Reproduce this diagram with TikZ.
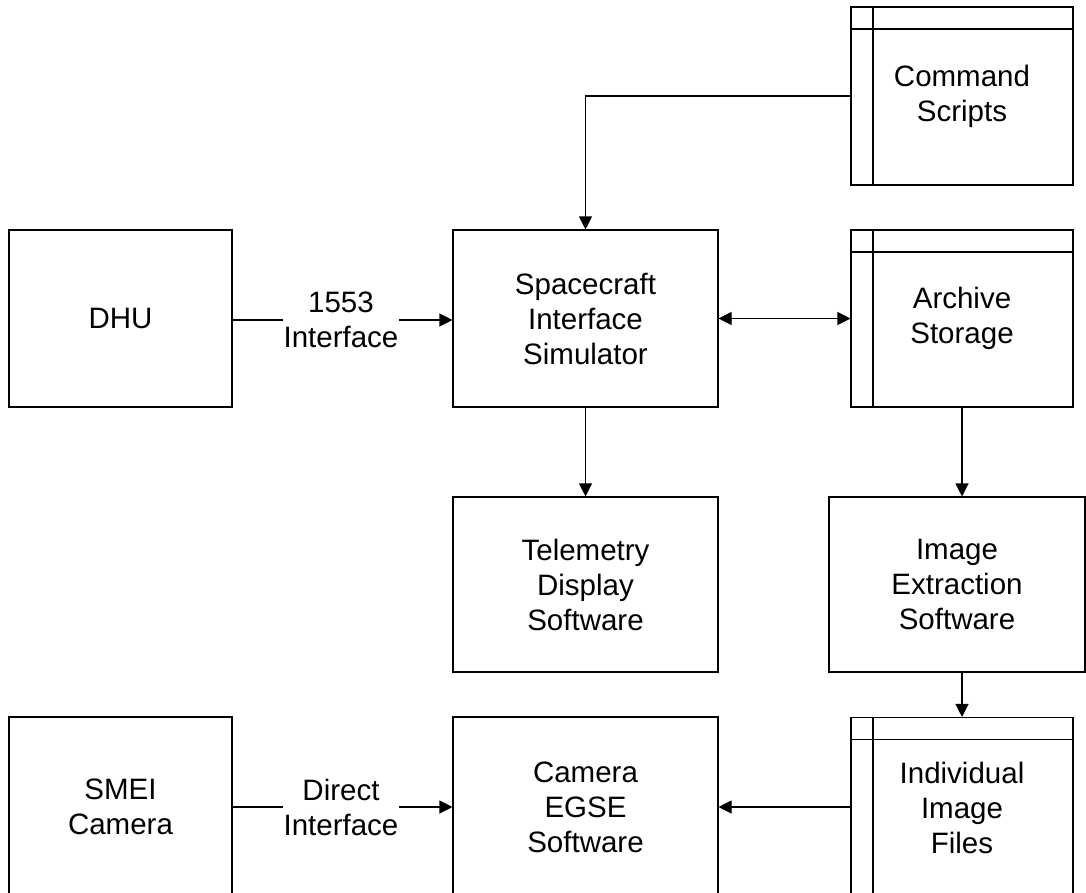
\documentclass[tikz,border=0pt]{standalone}
\usepackage{fontspec}
\setmainfont{Liberation Sans}
\usetikzlibrary{arrows.meta}
\begin{document}
\begin{tikzpicture}[x=1pt,y=-1pt,
  every node/.style={font=\fontsize{29.5}{35}\selectfont, align=center, inner sep=0pt},
  proc/.style={draw, line width=1.1pt},
  store/.style={draw, line width=1.1pt,
    path picture={
      \draw[line width=1.1pt] ([xshift=22pt]path picture bounding box.north west) -- ([xshift=22pt]path picture bounding box.south west);
      \draw[line width=1.1pt] ([yshift=-22pt]path picture bounding box.north west) -- ([yshift=-22pt]path picture bounding box.north east);
    }},
  link/.style={line width=1.1pt, -{Triangle[length=13pt,width=13pt]}},
  dlink/.style={line width=1.1pt, {Triangle[length=13pt,width=13pt]}-{Triangle[length=13pt,width=13pt]}},
  tag/.style={fill=white, inner xsep=1pt, inner ysep=0pt}]
\clip (0,0) rectangle (1086,892);

% processes
\node[proc, minimum width=223pt, minimum height=177pt] (dhu) at (120.5,318.5) {DHU};
\node[proc, minimum width=265pt, minimum height=177pt] (sis) at (585.5,318.5) {Spacecraft\\Interface\\Simulator};
\node[proc, minimum width=265pt, minimum height=175pt] (tel) at (585.5,584.5) {Telemetry\\Display\\Software};
\node[proc, minimum width=256pt, minimum height=175pt] (img) at (957,584.5) {Image\\Extraction\\Software};
\node[proc, minimum width=223pt, minimum height=180pt] (smei) at (120.5,807) {SMEI\\Camera};
\node[proc, minimum width=265pt, minimum height=180pt] (egse) at (585.5,807) {Camera\\EGSE\\Software};

% data stores
\node[store, minimum width=222pt, minimum height=178pt] (cmd) at (962,96) {Command\\Scripts};
\node[store, minimum width=222pt, minimum height=177pt] (arc) at (962,318.5) {Archive\\Storage};
\node[store, minimum width=222pt, minimum height=180pt] (ind) at (962,807.5) {Individual\\Image\\Files};

% flows
\draw[link] (cmd.west) -| (sis.north);
\draw[link] (dhu.east |- 0,320) -- (sis.west |- 0,320);
\node[tag] (iface1) at (341,320) {1553\\Interface};
\draw[dlink] (sis.east) -- (arc.west);
\draw[link] (sis.south) -- (tel.north);
\draw[link] (arc.south) -- (arc.south |- img.north);
\draw[link] (arc.south |- img.south) -- (ind.north);
\draw[link] (ind.west |- 0,807) -- (egse.east |- 0,807);
\draw[link] (smei.east |- 0,807) -- (egse.west |- 0,807);
\node[tag] (iface2) at (341,807) {Direct\\Interface};
\end{tikzpicture}
\end{document}
